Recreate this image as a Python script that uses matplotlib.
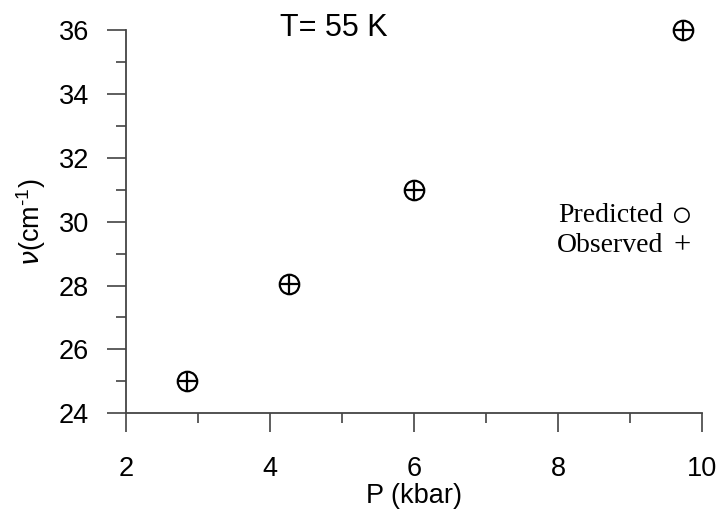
import numpy as np
import matplotlib.pyplot as plt
from matplotlib.ticker import MultipleLocator

# pressure (kbar) and mode frequency (cm^-1) at T = 55 K
presion = [2.85, 4.27, 6.0, 9.74]
predicho = [25.0, 28.05, 31.0, 36.0]
observado = [25.0, 28.05, 31.0, 36.0]

plt.rcParams['font.family'] = ['Liberation Sans', 'DejaVu Sans']
plt.rcParams['mathtext.fontset'] = 'custom'
plt.rcParams['mathtext.rm'] = 'Liberation Sans'

fig = plt.figure(figsize=(7.2, 5.12), dpi=100)
ax = fig.add_axes([0.175, 0.193, 0.80, 0.748])

ax.plot(presion, predicho, 'o', ms=14, mfc='none', mec='black', mew=1.6, clip_on=False)
ax.plot(presion, observado, '+', ms=14, mec='black', mew=1.6, clip_on=False)

ax.set_xlim(2, 10)
ax.set_ylim(24, 36)
ax.xaxis.set_major_locator(MultipleLocator(2))
ax.xaxis.set_minor_locator(MultipleLocator(1))
ax.yaxis.set_major_locator(MultipleLocator(2))
ax.yaxis.set_minor_locator(MultipleLocator(1))

for s in ['top', 'right']:
    ax.spines[s].set_visible(False)
for s in ['left', 'bottom']:
    ax.spines[s].set_color('#444444')
    ax.spines[s].set_linewidth(1.3)

ax.tick_params(which='major', length=13.5, width=1.1, color='#333333', labelsize=19.5)
ax.tick_params(which='minor', length=7, width=1.1, color='#333333')
ax.tick_params(axis='x', which='major', pad=17)
ax.tick_params(axis='y', which='major', pad=13)

ax.set_xlabel('P (kbar)', fontsize=19.5, labelpad=1)
ax.set_ylabel(r'$\nu$(cm$^{\text{-1}}$)', fontsize=19.5, labelpad=8)

fig.text(0.464, 0.945, 'T= 55 K', fontsize=22, ha='center', va='center')

# leyenda escrita como texto
serif = ['Liberation Serif', 'DejaVu Serif']
fig.text(0.921, 0.580, 'Predicted', fontsize=20, ha='right', va='center', family=serif)
fig.text(0.946, 0.576, '\u25cb', fontsize=26, ha='center', va='center', family=serif)
fig.text(0.921, 0.520, 'Observed', fontsize=20, ha='right', va='center', family=serif)
fig.text(0.947, 0.520, '+', fontsize=22, ha='center', va='center', family=serif)

plt.savefig('out.png', dpi=100)
